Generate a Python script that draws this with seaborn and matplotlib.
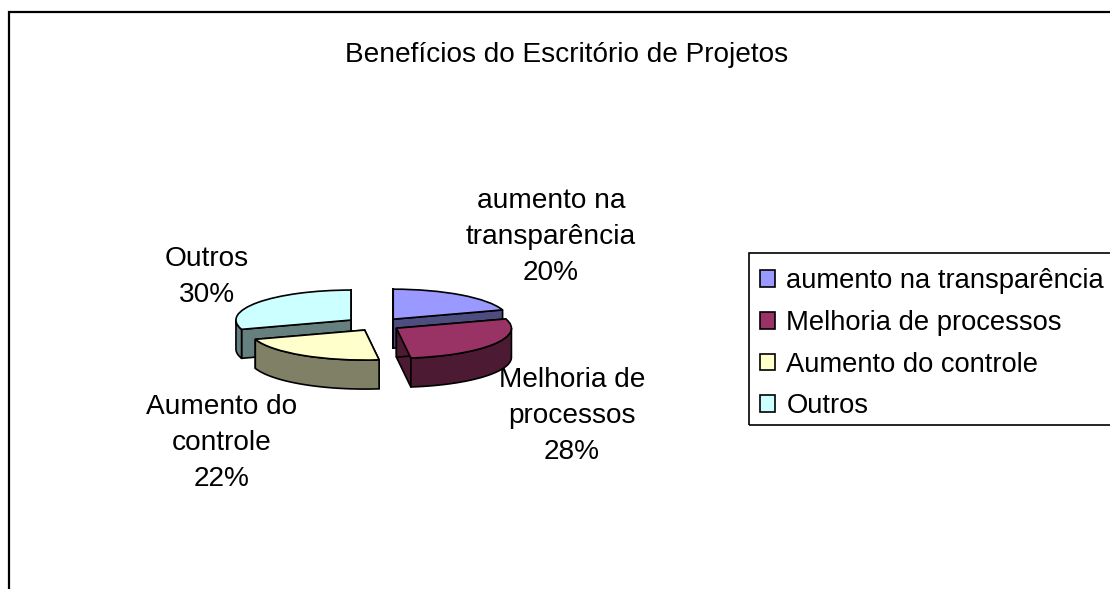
import matplotlib
matplotlib.use("Agg")
import numpy as np
import matplotlib.pyplot as plt
from matplotlib.patches import Polygon, Rectangle
import seaborn as sns

title = "Benefícios do Escritório de Projetos"
categories = ["aumento na transparência", "Melhoria de processos", "Aumento do controle", "Outros"]
values = [20, 28, 22, 30]
label_lines = ["aumento na\ntransparência", "Melhoria de\nprocessos", "Aumento do\ncontrole", "Outros"]
colors = ["#9999FF", "#993366", "#FFFFCC", "#CCFFFF"]
dark_colors = ["#4D4D80", "#4D1A33", "#808066", "#668080"]
explode = [0.24, 0.20, 0.20, 0.28]

W, H = 1110, 589
CX, CY, RX, RY, DEPTH = 377, 325, 115, 30, 29
LW = 1.2

sns.set_theme(style="white")
plt.rcParams["font.family"] = ["Liberation Sans", "DejaVu Sans"]
sns.set_palette(colors)

fig = plt.figure(figsize=(W / 100, H / 100), dpi=100, facecolor="white")
ax = fig.add_axes([0, 0, 1, 1])
wedges, _ = ax.pie(values, explode=explode, colors=sns.color_palette(), startangle=90,
                   counterclock=False, radius=1,
                   wedgeprops=dict(edgecolor="black", linewidth=LW, zorder=5))
ax.set_aspect("auto")
ax.set_xlim(-CX / RX, (W - CX) / RX)
ax.set_ylim(-(H - CY) / RY, CY / RY)
ax.axis("off")
d = DEPTH / RY


def arc(w, a, b):
    t = np.radians(np.linspace(a, b, 60))
    return np.column_stack([w.center[0] + w.r * np.cos(t), w.center[1] + w.r * np.sin(t)])


draw_order = [3, 0, 2, 1]
for n, i in enumerate(draw_order):
    w = wedges[i]
    base = 10 * (n + 1)
    w.set_zorder(base + 3)
    c = np.array(w.center)
    for ang in (w.theta1, w.theta2):
        p = arc(w, ang, ang)[0]
        quad = [c, p, p - [0, d], c - [0, d]]
        ax.add_patch(Polygon(quad, closed=True, facecolor=dark_colors[i], edgecolor="black",
                             linewidth=LW, zorder=base + 1, joinstyle="round"))
    lo, hi = max(w.theta1, -180), min(w.theta2, 0)
    if hi > lo:
        top = arc(w, lo, hi)
        wall = np.vstack([top, (top - [0, d])[::-1]])
        ax.add_patch(Polygon(wall, closed=True, facecolor=dark_colors[i], edgecolor="black",
                             linewidth=LW, zorder=base + 2, joinstyle="round"))

FS = 20.2
fig.text(567 / W, 1 - 55 / H, title, ha="center", va="center", fontsize=FS, color="black")
label_pos = [(551, 237), (572, 416), (222, 443), (207, 277)]
for (x, y), name, v in zip(label_pos, label_lines, values):
    fig.text(x / W, 1 - y / H, f"{name}\n{v}%", ha="center", va="center", fontsize=FS,
             linespacing=1.51, color="black")

fig.patches.append(Rectangle((8.8 / W, -0.1), 1.2, 1.1 - 12 / H, transform=fig.transFigure,
                             fill=False, edgecolor="black", linewidth=1.6, figure=fig))
fig.patches.append(Rectangle((749 / W, 1 - 425 / H), 0.5, 172 / H, transform=fig.transFigure,
                             fill=False, edgecolor="black", linewidth=1.2, figure=fig))

leg = fig.legend(wedges, categories, loc="upper left", bbox_to_anchor=(750 / W, 1 - 258 / H),
                 bbox_transform=fig.transFigure, borderaxespad=0, fontsize=19.7,
                 frameon=False,
                 handlelength=0.55, handleheight=0.55, handletextpad=0.4,
                 labelspacing=0.57, borderpad=0.38, labelcolor="black")
leg.set_zorder(100)
for h in leg.get_patches():
    h.set_linewidth(1.2)

fig.savefig("out.png", dpi=100)
